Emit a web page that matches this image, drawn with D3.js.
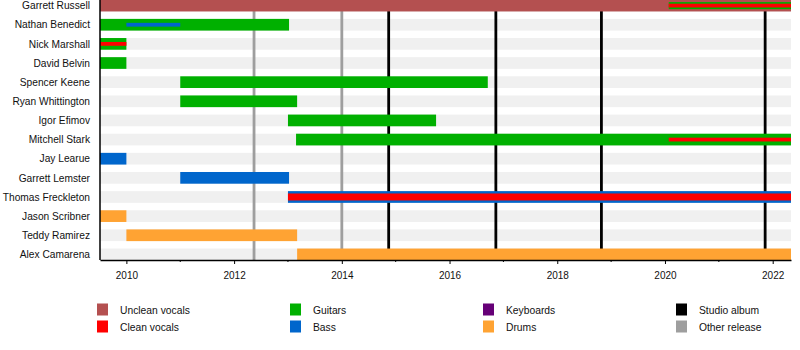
<!DOCTYPE html>
<html>
<head>
<meta charset="utf-8">
<script src="https://cdn.jsdelivr.net/npm/d3@7/dist/d3.min.js"></script>
<style>
  html, body { margin: 0; padding: 0; background: #fff; }
  svg { display: block; font-family: "Liberation Sans", Arial, Helvetica, sans-serif; }
</style>
</head>
<body>
<svg id="chart" width="800" height="350"></svg>
<script>
// Band members, top to bottom
const members = [
  "Garrett Russell", "Nathan Benedict", "Nick Marshall", "David Belvin",
  "Spencer Keene", "Ryan Whittington", "Igor Efimov", "Mitchell Stark",
  "Jay Learue", "Garrett Lemster", "Thomas Freckleton", "Jason Scribner",
  "Teddy Ramirez", "Alex Camarena"
];

// Timeline bounds (decimal years)
const START = 2009.51;
const END = 2022.34;

// Roles and their legend colours
const roles = ["Unclean vocals", "Clean vocals", "Guitars", "Bass", "Keyboards", "Drums"];
const roleColors = ["#b45050", "#ff0000", "#00b000", "#0066cc", "#660077", "#ffa333"];

// Primary tenure spans: [member, from, till, role]
const mainSpans = [
  ["Garrett Russell", START, END, "Unclean vocals"],
  ["Nathan Benedict", START, 2013.02, "Guitars"],
  ["Nick Marshall", START, 2010.0, "Guitars"],
  ["David Belvin", START, 2010.0, "Guitars"],
  ["Spencer Keene", 2011.0, 2016.71, "Guitars"],
  ["Ryan Whittington", 2011.0, 2013.17, "Guitars"],
  ["Igor Efimov", 2013.0, 2015.75, "Guitars"],
  ["Mitchell Stark", 2013.15, END, "Guitars"],
  ["Jay Learue", START, 2010.0, "Bass"],
  ["Garrett Lemster", 2011.0, 2013.02, "Bass"],
  ["Thomas Freckleton", 2013.0, END, "Bass"],
  ["Jason Scribner", START, 2010.0, "Drums"],
  ["Teddy Ramirez", 2010.0, 2013.17, "Drums"],
  ["Alex Camarena", 2013.17, END, "Drums"]
];

// Secondary roles, drawn as narrower bars on top
const middleSpans = [
  ["Garrett Russell", 2020.07, END, "Guitars"],
  ["Thomas Freckleton", 2013.0, END, "Clean vocals"]
];
const innerSpans = [
  ["Garrett Russell", 2020.07, END, "Clean vocals"],
  ["Nathan Benedict", 2010.0, 2011.0, "Bass"],
  ["Nick Marshall", START, 2010.0, "Clean vocals"],
  ["Mitchell Stark", 2020.07, END, "Clean vocals"]
];

// Release markers
const studioAlbums = [2014.87, 2016.86, 2018.82, 2021.86];
const otherReleases = [2012.37, 2014.0];

// Axis ticks
const majorTicks = [2010, 2012, 2014, 2016, 2018, 2020, 2022];
const minorTicks = [2011, 2013, 2015, 2017, 2019, 2021];

// Legend entries (label, colour), laid out column by column
const legendLabels = ["Unclean vocals", "Clean vocals", "Guitars", "Bass", "Keyboards", "Drums", "Studio album", "Other release"];
const legendColors = ["#b45050", "#ff0000", "#00b000", "#0066cc", "#660077", "#ffa333", "#000000", "#9e9e9e"];

const color = d3.scaleOrdinal().domain(roles).range(roleColors);

const svg = d3.select("#chart");
const plotLeft = 100, plotRight = 791, axisY = 260;

const x = d3.scaleLinear().domain([START, END]).range([plotLeft, plotRight]);
const y = d3.scalePoint().domain(members).range([5.6, 254.4]);

const barH = 11.7, midH = 7, innerH = 3.8;

// Row background stripes
svg.append("g").selectAll("rect").data(members).join("rect")
  .attr("x", plotLeft).attr("width", plotRight - plotLeft)
  .attr("y", d => y(d) - barH / 2).attr("height", barH)
  .attr("fill", "#f0f0f0");

// Release lines
const lines = svg.append("g");
lines.selectAll("line.other").data(otherReleases).join("line")
  .attr("class", "other")
  .attr("x1", d => x(d)).attr("x2", d => x(d))
  .attr("y1", 0).attr("y2", axisY)
  .attr("stroke", "#9e9e9e").attr("stroke-width", 2.8);
lines.selectAll("line.studio").data(studioAlbums).join("line")
  .attr("class", "studio")
  .attr("x1", d => x(d)).attr("x2", d => x(d))
  .attr("y1", 0).attr("y2", axisY)
  .attr("stroke", "#000").attr("stroke-width", 2.8);

// Bars
function drawSpans(data, h) {
  svg.append("g").selectAll("rect").data(data).join("rect")
    .attr("x", d => x(d[1]))
    .attr("width", d => x(d[2]) - x(d[1]))
    .attr("y", d => y(d[0]) - h / 2)
    .attr("height", h)
    .attr("fill", d => color(d[3]));
}
drawSpans(mainSpans, barH);
drawSpans(middleSpans, midH);
drawSpans(innerSpans, innerH);

// Member names
svg.append("g").selectAll("text").data(members).join("text")
  .attr("x", plotLeft - 10)
  .attr("y", d => y(d))
  .attr("dy", "0.36em")
  .attr("text-anchor", "end")
  .attr("font-size", "10.2px")
  .attr("fill", "#111")
  .text(d => d);

// Left axis line
svg.append("line")
  .attr("x1", plotLeft).attr("x2", plotLeft)
  .attr("y1", 0).attr("y2", axisY)
  .attr("stroke", "#000").attr("stroke-width", 1.5);

// Bottom time axis
const axisG = svg.append("g").attr("transform", `translate(0,${axisY})`);
axisG.call(d3.axisBottom(x).tickValues(majorTicks).tickFormat(d3.format("d")).tickSize(4).tickSizeOuter(0).tickPadding(8));
axisG.select(".domain").attr("stroke", "#000").attr("stroke-width", 1.5);
axisG.selectAll(".tick line").attr("stroke", "#000");
axisG.selectAll(".tick text")
  .attr("font-family", "'Liberation Sans', Arial, sans-serif")
  .attr("font-size", "10px").attr("fill", "#111");
axisG.selectAll("line.minor").data(minorTicks).join("line")
  .attr("class", "minor")
  .attr("x1", d => x(d)).attr("x2", d => x(d))
  .attr("y1", 0).attr("y2", 2)
  .attr("stroke", "#000");

// Legend: four columns, two rows
const legend = svg.append("g").selectAll("g").data(legendLabels).join("g")
  .attr("transform", (d, i) => `translate(${97 + Math.floor(i / 2) * 193},${303.5 + (i % 2) * 17})`);
legend.append("rect")
  .attr("width", 11).attr("height", 12)
  .attr("fill", (d, i) => legendColors[i]);
legend.append("text")
  .attr("x", 23).attr("y", 6.5).attr("dy", "0.36em")
  .attr("font-size", "10.3px").attr("fill", "#111")
  .text(d => d);
</script>
</body>
</html>
